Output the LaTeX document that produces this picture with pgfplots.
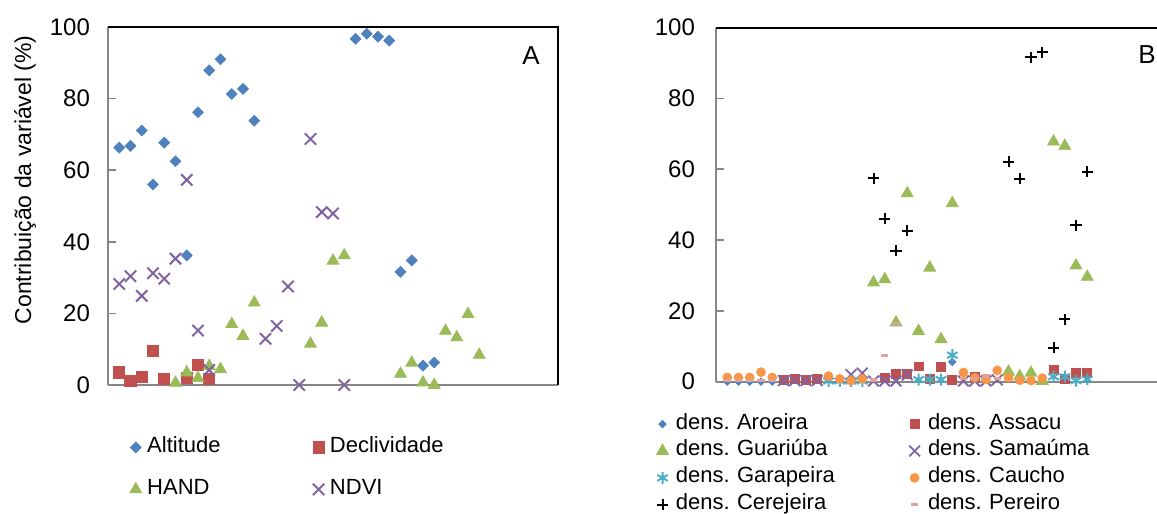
\documentclass[border=0pt]{standalone}
\usepackage{fontspec}
\setmainfont{Liberation Sans}
\usepackage{pgfplots}
\pgfplotsset{compat=1.18}
\frenchspacing

\definecolor{cblue}{HTML}{4F81BD}
\definecolor{cred}{HTML}{C0504D}
\definecolor{cgreen}{HTML}{9BBB59}
\definecolor{cpurple}{HTML}{8064A2}
\definecolor{ccyan}{HTML}{4BACC6}
\definecolor{corange}{HTML}{F79646}
\definecolor{cpink}{HTML}{E0A09E}
\definecolor{axgray}{HTML}{868686}

\pgfplotsset{
  panel/.style={
    scale only axis, width=225pt,
    xmin=0, xmax=40, ymin=0, ymax=100,
    ytick={0,20,...,100}, xtick=\empty,
    axis lines=left, axis line style={draw=axgray, line width=1pt, -},
    tick align=inside, major tick length=4pt,
    tick style={draw=axgray, line width=0.8pt},
    ticklabel style={font=\fontsize{12}{14}\selectfont},
    /pgf/number format/assume math mode=true,
    clip=false,
    legend columns=2, legend cell align=left,
  },
}

\begin{document}
\begin{tikzpicture}

% ---------- panel A ----------
\begin{axis}[panel,
  at={(54pt,64.5pt)}, anchor=south west, height=179pt,
  yticklabel style={xshift=-5.5pt},
  ylabel={Contribuição da variável (\%)},
  ylabel style={at={(axis description cs:-0.184,0.573)}, anchor=center,
    font=\fontsize{11.5}{13}\selectfont},
  legend image code/.code={\path (-3.5pt,0pt) (3.5pt,0pt);
    \draw[#1] plot coordinates {(0pt,0pt)};},
  legend style={draw=none, fill=none, font=\fontsize{11}{13}\selectfont,
    at={(axis description cs:0.0311,-0.1215)}, anchor=north west,
    row sep=6.5pt,
    nodes={text width=80pt, text height=8pt, text depth=2.5pt, inner sep=2pt, align=left}},
]
\addplot[only marks, mark=square*, color=cblue, mark size=1.9pt, mark options={rotate=45}] coordinates {
  (1,66.3) (2,66.8) (3,71.1) (4,56.0) (5,67.7) (6,62.5) (7,36.2) (8,76.2)
  (9,87.9) (10,91.0) (11,81.3) (12,82.7) (13,73.8) (22,96.7) (23,98.1)
  (24,97.3) (25,96.2) (26,31.6) (27,34.8) (28,5.4) (29,6.3)
};
\addlegendentry{Altitude}
\addplot[only marks, mark=square*, color=cred, mark size=2.8pt] coordinates {
  (1,3.5) (2,1.1) (3,2.3) (4,9.5) (5,1.6) (7,2.0) (8,5.6) (9,1.8)
};
\addlegendentry{Declividade}
\addplot[only marks, mark=triangle*, color=cgreen, mark size=3.4pt] coordinates {
  (6,0.6) (7,3.5) (8,1.9) (9,5.3) (10,4.4) (11,17.0) (12,13.7) (13,23.0)
  (18,11.5) (19,17.4) (20,34.7) (21,36.2) (26,3.1) (27,6.2) (28,0.7) (29,0)
  (30,15.1) (31,13.3) (32,19.8) (33,8.4)
};
\addlegendentry{HAND}
\addplot[only marks, mark=x, color=cpurple, mark size=4pt, mark options={line width=1pt}] coordinates {
  (1,28.2) (2,30.4) (3,24.9) (4,31.2) (5,29.7) (6,35.3) (7,57.3) (8,15.2)
  (9,4.2) (14,12.9) (15,16.5) (16,27.5) (17,0) (18,68.7) (19,48.3) (20,47.9) (21,0)
};
\addlegendentry{NDVI}
\draw[black, line width=1pt] (rel axis cs:0,1) -- (rel axis cs:1,1) -- (rel axis cs:1,0);
\node[font=\fontsize{13}{15}\selectfont] at (rel axis cs:0.94,0.919) {A};
\end{axis}

% ---------- panel B ----------
\begin{axis}[panel,
  at={(358pt,66.15pt)}, anchor=south west, height=177pt,
  yticklabel style={xshift=-7pt},
  legend image code/.code={\path (-4.5pt,0pt) (4.5pt,0pt);
    \draw[#1] plot coordinates {(0pt,0pt)};},
  legend style={draw=none, fill=none, font=\fontsize{11}{13}\selectfont,
    at={(axis description cs:-0.154,-0.0706)}, anchor=north west,
    row sep=0.45pt,
    nodes={text width=112.65pt, text height=7pt, text depth=2pt, inner sep=2pt, align=left}},
]
\addplot[only marks, mark=square*, color=cblue, mark size=1.3pt, mark options={rotate=45}] coordinates {
  (1,0) (2,0) (3,0) (4,0) (5,0) (21,5.6)
};
\addlegendentry{dens. Aroeira}
\addplot[only marks, mark=square*, color=cred, mark size=2.2pt] coordinates {
  (6,0.6) (7,0.8) (8,0.5) (9,0.7) (15,1.2) (16,2.3) (17,2.3) (18,4.3) (19,0.8)
  (20,4.1) (21,0.4) (23,1.4) (30,3.5) (31,0.7) (32,2.4) (33,2.4)
};
\addlegendentry{dens. Assacu}
\addplot[only marks, mark=triangle*, color=cgreen, mark size=3.4pt] coordinates {
  (14,28.0) (15,28.9) (16,16.7) (17,53.2) (18,14.3) (19,32.2) (20,12.0) (21,50.4)
  (26,2.8) (27,1.5) (28,2.5) (29,0.2) (30,67.8) (31,66.6) (32,32.8) (33,29.6)
};
\addlegendentry{dens. Guariúba}
\addplot[only marks, mark=x, color=cpurple, mark size=3.8pt, mark options={line width=0.9pt}] coordinates {
  (6,0.3) (7,0.3) (8,0.3) (9,0.3) (12,2.0) (13,2.4) (14,0.2) (15,0.2) (16,0.2)
  (17,1.9) (22,0.2) (23,0.2) (24,0.2) (25,0.5)
};
\addlegendentry{dens. Samaúma}
\addplot[only marks, mark=asterisk, color=ccyan, mark size=3pt, mark options={line width=1pt}] coordinates {
  (10,0.2) (11,0.2) (12,0.2) (13,0.2) (18,0.6) (19,0.6) (20,0.6) (21,7.5)
  (30,1.4) (31,1.4) (32,0.3) (33,0.7)
};
\addlegendentry{dens. Garapeira}
\addplot[only marks, mark=*, color=corange, mark size=2.2pt] coordinates {
  (1,1.2) (2,1.2) (3,1.2) (4,2.7) (5,1.2) (10,1.6) (11,0.8) (12,0.3) (13,0.8)
  (22,2.6) (23,1.1) (24,0.6) (25,3.2) (26,1.1) (27,0.4) (28,0.3) (29,1.0)
};
\addlegendentry{dens. Caucho}
\addplot[only marks, mark=+, color=black, mark size=2.8pt, mark options={line width=1pt}] coordinates {
  (14,57.5) (15,46.0) (16,37.0) (17,42.6) (26,62.1) (27,57.4) (28,91.6) (29,93.0)
  (30,9.6) (31,17.6) (32,44.2) (33,59.3)
};
\addlegendentry{dens. Cerejeira}
\addplot[only marks, mark=-, color=cpink, mark size=1.8pt, mark options={line width=1.6pt}] coordinates {
  (1,0.4) (2,0.4) (3,0.4) (4,0.4) (5,0.4) (14,0.5) (15,7.3) (16,16.5)
  (22,0.8) (23,0.8) (24,1.6) (25,1.0)
};
\addlegendentry{dens. Pereiro}
\draw[black, line width=1pt] (rel axis cs:0,1) -- (rel axis cs:1,1);
\node[font=\fontsize{13}{15}\selectfont] at (rel axis cs:0.958,0.923) {B};
\end{axis}

\pgfresetboundingbox
\path[use as bounding box] (0,0) rectangle (578.5pt,257pt);
\end{tikzpicture}
\end{document}
